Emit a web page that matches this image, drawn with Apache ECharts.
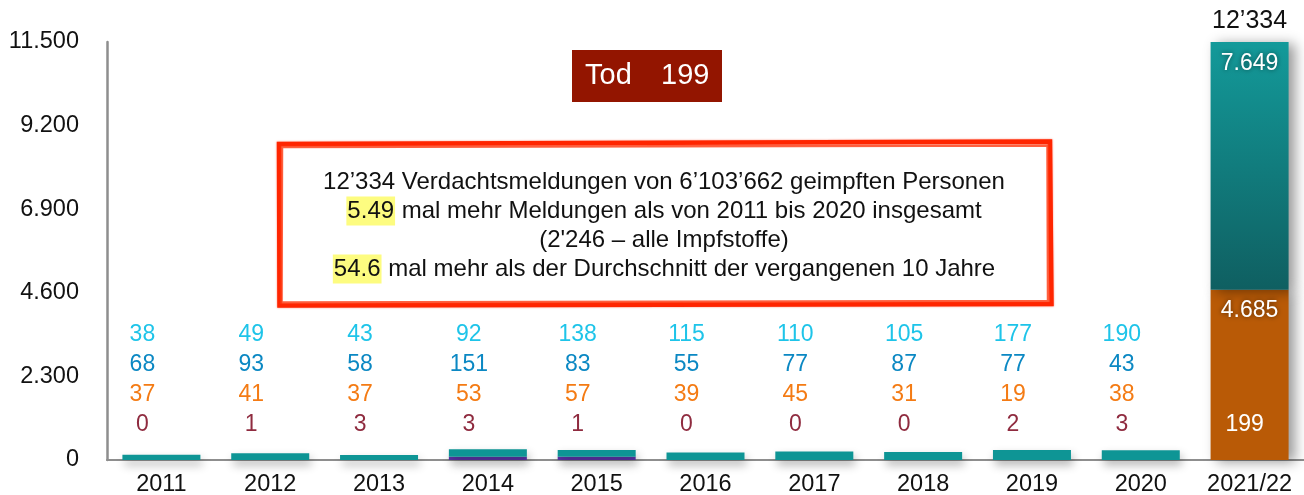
<!DOCTYPE html>
<html>
<head>
<meta charset="utf-8">
<title>Verdachtsmeldungen 2011 – 2021/22</title>
<script src="https://cdn.jsdelivr.net/npm/echarts@6/dist/echarts.min.js"></script>
<style>
  html, body { margin: 0; padding: 0; background: #fff; }
  #chart { width: 1304px; height: 495px; }
</style>
</head>
<body>
<div id="chart"></div>
<script>
// Jahre
const jahre = ['2011', '2012', '2013', '2014', '2015', '2016', '2017', '2018', '2019', '2020', '2021/22'];

// Meldungen 2011–2020 je Kategorie (Zahlenreihen über den Säulen)
const katHell   = [38, 49, 43, 92, 138, 115, 110, 105, 177, 190];
const katBlau   = [68, 93, 58, 151, 83, 55, 77, 87, 77, 43];
const katOrange = [37, 41, 37, 53, 57, 39, 45, 31, 19, 38];
const tod       = [0, 1, 3, 3, 1, 0, 0, 0, 2, 3, 199];

// violetter Sockel in 2014 und 2015
const violett   = [0, 0, 0, 90, 90, 0, 0, 0, 0, 0];

// 2021/22
const aktuellNichtSchwer = 7649;
const aktuellSchwer      = 4685;

// Achsenticks
const yTicks = [0, 2300, 4600, 6900, 9200, 11500];

const FONT = '"Liberation Sans", Arial, Helvetica, sans-serif';
const letzte = jahre.length - 1;

const fmtPunkt = v => String(v).replace(/\B(?=(\d{3})+(?!\d))/g, '.');
const fmtHochkomma = v => String(v).replace(/\B(?=(\d{3})+(?!\d))/g, '\u2019');

const summenHist = katHell.map((v, i) => v + katBlau[i] + katOrange[i]);
const summeAktuell = aktuellNichtSchwer + aktuellSchwer;

const schatten = {
  shadowBlur: 10,
  shadowColor: 'rgba(0,0,0,0.3)',
  shadowOffsetX: 2,
  shadowOffsetY: 5
};

const weissLabel = {
  color: '#fff',
  fontSize: 23,
  fontFamily: FONT,
  textShadowColor: 'rgba(0,0,0,0.55)',
  textShadowBlur: 5
};

// Sockel-Serie: trägt die Zahlenreihen (unten verankert)
const sockelDaten = jahre.map((j, i) => {
  if (i < letzte) {
    return {
      value: violett[i],
      label: {
        offset: [-19, 0],
        formatter: `{c|${katHell[i]}}\n{b|${katBlau[i]}}\n{o|${katOrange[i]}}\n{r|${tod[i]}}`
      }
    };
  }
  return {
    value: 0,
    label: { offset: [-5, 0], formatter: `{w|${tod[i]}}` }
  };
});

const orangeDaten = jahre.map((j, i) => (i === letzte ? aktuellSchwer : null));

const tuerkisDaten = jahre.map((j, i) => {
  if (i < letzte) return summenHist[i] - violett[i];
  return {
    value: aktuellNichtSchwer,
    itemStyle: {
      color: new echarts.graphic.LinearGradient(0, 0, 0, 1, [
        { offset: 0, color: '#139a9a' },
        { offset: 1, color: '#0f5f61' }
      ]),
      shadowBlur: 12,
      shadowColor: 'rgba(0,0,0,0.4)',
      shadowOffsetX: 6,
      shadowOffsetY: 2
    },
    label: { show: true }
  };
});

const summenDaten = jahre.map((j, i) => (i === letzte ? summeAktuell : null));

const chart = echarts.init(document.getElementById('chart'), null, { renderer: 'canvas' });

chart.setOption({
  animation: false,
  textStyle: { fontFamily: FONT },
  grid: { left: 107, right: 0, top: 42, bottom: 35, containLabel: false, outerBoundsMode: 'none' },
  xAxis: {
    type: 'category',
    data: jahre,
    axisTick: { show: false },
    axisLine: { lineStyle: { color: '#8e8e8e', width: 2 } },
    axisLabel: { color: '#111', fontSize: 23.5, margin: 13, interval: 0, hideOverlap: false, fontFamily: FONT }
  },
  yAxis: {
    type: 'value',
    min: yTicks[0],
    max: yTicks[yTicks.length - 1],
    interval: yTicks[1] - yTicks[0],
    splitLine: { show: false },
    axisTick: { show: false },
    axisLine: { show: true, lineStyle: { color: '#8e8e8e', width: 2.5 } },
    axisLabel: {
      color: '#111',
      fontSize: 23.5,
      margin: 28,
      padding: [6, 0, 0, 0],
      fontFamily: FONT,
      formatter: v => fmtPunkt(v)
    }
  },
  series: [
    {
      name: 'Sockel',
      type: 'bar',
      stack: 'a',
      barWidth: 78,
      barGap: '-100%',
      data: sockelDaten,
      itemStyle: Object.assign({ color: '#5a35a8' }, schatten),
      label: {
        show: true,
        position: 'insideBottom',
        distance: 20,
        fontFamily: FONT,
        rich: {
          c: { color: '#1ec4e9', fontSize: 23, lineHeight: 30, fontFamily: FONT },
          b: { color: '#0b88c3', fontSize: 23, lineHeight: 30, fontFamily: FONT },
          o: { color: '#f47b14', fontSize: 23, lineHeight: 30, fontFamily: FONT },
          r: { color: '#8f2b3f', fontSize: 23, lineHeight: 30, fontFamily: FONT },
          w: { color: '#fff', fontSize: 23, lineHeight: 30, fontFamily: FONT }
        }
      },
      z: 2
    },
    {
      name: 'Schwerwiegend',
      type: 'bar',
      stack: 'a',
      barWidth: 78,
      data: orangeDaten,
      itemStyle: {
        color: '#b95a06',
        shadowBlur: 12,
        shadowColor: 'rgba(0,0,0,0.4)',
        shadowOffsetX: 6,
        shadowOffsetY: 2
      },
      label: Object.assign({
        show: true,
        position: 'insideTop',
        distance: 9,
        formatter: p => fmtPunkt(p.value)
      }, weissLabel),
      z: 2
    },
    {
      name: 'Nicht schwerwiegend',
      type: 'bar',
      stack: 'a',
      barWidth: 78,
      data: tuerkisDaten,
      itemStyle: Object.assign({ color: '#0e9595' }, schatten),
      label: Object.assign({
        show: false,
        position: 'insideTop',
        distance: 10,
        formatter: p => fmtPunkt(p.value)
      }, weissLabel),
      z: 2
    },
    {
      name: 'Total',
      type: 'bar',
      barWidth: 78,
      barGap: '-100%',
      data: summenDaten,
      itemStyle: { color: 'rgba(0,0,0,0)' },
      label: {
        show: true,
        position: 'top',
        distance: 8,
        color: '#111',
        fontSize: 25,
        fontFamily: FONT,
        formatter: p => fmtHochkomma(p.value)
      },
      z: 3
    }
  ],
  graphic: [
    // Todesfälle-Kasten
    {
      type: 'group',
      left: 572,
      top: 50,
      children: [
        { type: 'rect', shape: { x: 0, y: 0, width: 150, height: 52 }, style: { fill: '#931500' } },
        {
          type: 'text',
          style: { x: 13, y: 26, text: 'Tod', fill: '#fff', font: '29px ' + FONT, verticalAlign: 'middle', align: 'left' }
        },
        {
          type: 'text',
          style: { x: 89, y: 26, text: String(tod[letzte]), fill: '#fff', font: '29px ' + FONT, verticalAlign: 'middle', align: 'left' }
        }
      ]
    },
    // roter, handgezeichnet wirkender Rahmen
    {
      type: 'polygon',
      shape: { points: [[279, 144], [1050, 141.5], [1051.5, 304], [279.5, 305.5]] },
      style: { fill: 'none', stroke: '#ff2500', lineWidth: 4.5, shadowBlur: 2, shadowColor: 'rgba(255,40,0,0.6)' },
      z: 10
    },
    {
      type: 'polygon',
      shape: { points: [[282, 147], [1047.5, 145.5], [1048, 301], [281.5, 302.5]] },
      style: { fill: 'none', stroke: '#ff3a10', lineWidth: 2.5, opacity: 0.8 },
      z: 10
    },
    {
      type: 'text',
      z: 11,
      style: {
        x: 664,
        y: 225.5,
        align: 'center',
        verticalAlign: 'middle',
        fill: '#111',
        font: '24px ' + FONT,
        lineHeight: 29,
        text: '12\u2019334 Verdachtsmeldungen von 6\u2019103\u2019662 geimpften Personen\n' +
              '{h|5.49} mal mehr Meldungen als von 2011 bis 2020 insgesamt\n' +
              '(2\'246 \u2013 alle Impfstoffe)\n' +
              '{h|54.6} mal mehr als der Durchschnitt der vergangenen 10 Jahre',
        rich: {
          h: { backgroundColor: '#fdfc80', fill: '#111', font: '24px ' + FONT, lineHeight: 29, padding: [3, 1, 2, 1] }
        }
      }
    }
  ]
});
</script>
</body>
</html>
